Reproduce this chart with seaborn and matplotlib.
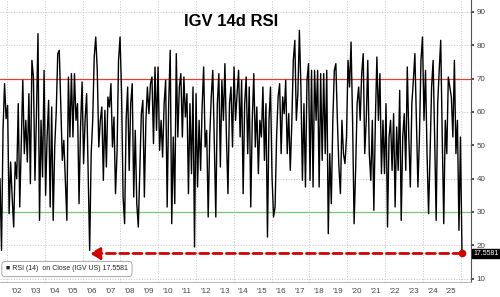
import numpy as np
import pandas as pd
import matplotlib
matplotlib.use("Agg")
import matplotlib.pyplot as plt
import seaborn as sns

# ---- data (RSI values, evenly spaced in time) ----
rsi_2001_2005 = [40, 18.5, 55, 68.5, 58, 62, 29.5, 45, 34.5, 25.5, 45, 40, 62.5, 31.5, 50,
                 69.5, 47.5, 57.5, 45, 65.5, 38.5, 75.5, 70.5, 39.5, 59.5, 83.5, 27.5, 57.5,
                 40.5, 72.5, 35, 52.5, 63.5, 31.5, 61.5, 27.5, 49.5, 60, 77.5, 78.5, 62.5,
                 45.5, 51.5, 39.5, 27.5, 70.5, 52.5, 71.5, 52.5, 71.5, 57.5]
rsi_2006_2009 = [62.5, 32.5, 55.5, 69, 44.5, 57.5, 65.5, 41.5, 18.5, 47.5, 57.5, 76.5, 82.5,
                 72.5, 49.5, 57.5, 61.5, 39.5, 60.5, 43.5, 64.5, 61.5, 68.5, 49.5, 58.5, 35.5,
                 47.5, 75.5, 82.5, 65.5, 34.5, 26.5, 57.5, 67.5, 42.5, 62.5, 68.5, 34.5, 54.5,
                 32.5, 25.5, 42.5, 59.5, 63.5, 34.5, 57.5, 67.5, 59.5, 68.5, 70.5, 50.5, 73.5,
                 54.5, 73.5, 48.5, 57.5, 46.5]
rsi_2010_2013 = [62.5, 69.5, 31.5, 62.5, 78.5, 26.5, 52.5, 32.5, 77.5, 52.5, 67.5, 71.5, 52.5,
                 70.5, 58.5, 65.5, 35.5, 62.5, 41.5, 67.5, 19.5, 65.5, 37.5, 57.5, 42.5, 61.5,
                 73.5, 49.5, 54.5, 28.5, 52.5, 64.5, 72.5, 51.5, 28.5, 62.5, 71.5, 43.5, 69.5,
                 57.5, 74.5, 52.5, 35.5, 62.5, 67.5, 49.5, 73.5, 57.5, 65.5]
rsi_2014_2017 = [72.5, 52.5, 69.5, 35.5, 62.5, 70.5, 47.5, 67.5, 31.5, 57.5, 71.5, 49.5, 61.5,
                 41.5, 57.5, 52.5, 67.5, 45.5, 62.5, 22.5, 57.5, 67.5, 40.5, 28.5, 31.5, 52.5,
                 64.5, 68.5, 47.5, 64.5, 59.5, 69.5, 47.5, 59.5, 42.5, 56.5, 75.5, 81.5, 57.5,
                 65.5, 84.5, 67.5, 39.5, 62.5, 37.5, 69.5, 74.5, 39.5, 72.5, 37.5, 72.5, 57.5]
rsi_2018_2021 = [72.5, 37.5, 71.5, 45.5, 71.5, 47.5, 72.5, 23.5, 47.5, 32.5, 57.5, 72.5, 74.5,
                 57.5, 43.5, 35.5, 57.5, 47.5, 44.5, 52.5, 75.5, 67.5, 81, 57.5, 26.5, 42.5,
                 62.5, 67.5, 57.5, 71.5, 77.5, 47.5, 57.5, 75.5, 47.5, 39.5, 57.5, 30.5, 57.5,
                 76.5, 57.5, 71.5, 41.5, 57.5, 41.5, 62.5, 25.5, 52.5, 57.5, 42.5]
rsi_2022_2026 = [59.5, 31.5, 55.5, 42.5, 66.5, 27.5, 52.5, 59.5, 42.5, 73.5, 52.5, 37.5, 62.5,
                 69.5, 77.5, 57.5, 37.5, 52.5, 75.5, 82.5, 57.5, 72.5, 47.5, 29.5, 47.5, 67.5,
                 75.5, 52.5, 27.5, 62.5, 72.5, 81.5, 52.5, 26.5, 57.5, 47.5, 70.5, 67.5, 64.5,
                 52.5, 75.5, 47.5, 57.5, 24.5, 52.5, 17.5581]

rsi = np.array(rsi_2001_2005 + rsi_2006_2009 + rsi_2010_2013 +
               rsi_2014_2017 + rsi_2018_2021 + rsi_2022_2026)
dates = pd.date_range("2001-08-18", "2026-01-26", periods=len(rsi))
df = pd.DataFrame({"date": dates, "rsi": rsi})

last_value = 17.5581
low_2006_date = pd.Timestamp("2006-05-20")
year_labels = [f"'{y % 100:02d}" for y in range(2002, 2026)]

# ---- figure ----
sns.set_style("white")
plt.rcParams["font.family"] = ["Liberation Sans", "DejaVu Sans"]

fig = plt.figure(figsize=(5.0, 2.97), dpi=100)
ax = fig.add_axes([0.0, 15 / 297, 471 / 500, 282 / 297])

# gridlines
for y in [10, 20, 40, 50, 60, 80, 90]:
    ax.axhline(y, color="#bbbbbb", linestyle=(0, (1.2, 2.0)), linewidth=0.6, zorder=0)
for y in range(2002, 2027, 2):
    ax.axvline(pd.Timestamp(f"{y}-01-01"), color="#bbbbbb", linestyle=(0, (1.2, 2.0)),
               linewidth=0.6, zorder=0)

ax.axhline(70, color="#e0402f", linewidth=0.9, zorder=1)
ax.axhline(30, color="#74c874", linewidth=0.9, zorder=1)

sns.lineplot(data=df, x="date", y="rsi", ax=ax, color="black", linewidth=1.0, zorder=2)

# red dashed arrow
ax.annotate("", xy=(low_2006_date, last_value), xytext=(df["date"].iloc[-1], last_value),
            arrowprops=dict(arrowstyle="-|>,head_length=0.6,head_width=0.35",
                            color="#d40000", linestyle=(0, (3.2, 1.6)), linewidth=2.0,
                            shrinkA=0, shrinkB=0), zorder=5)
ax.plot([df["date"].iloc[-1]], [last_value], marker="o", color="#d40000",
        markersize=4.5, zorder=6)

ax.set_xlim(pd.Timestamp("2001-08-18"), pd.Timestamp("2026-07-19"))
ax.set_ylim(9.0, 93.6)

# y axis on right
ax.yaxis.tick_right()
ax.set_yticks(range(10, 91, 10))
ax.tick_params(axis="y", direction="out", length=2.5, width=1.2, colors="#333333",
               labelsize=5.8, pad=1.5, right=True, left=False)
for lab in ax.get_yticklabels():
    lab.set_color("#444444")

# x axis: year separators + mid-year labels
ax.set_xticks([pd.Timestamp(f"{y}-07-02") for y in range(2002, 2026)])
ax.set_xticklabels(year_labels)
ax.set_xticks([pd.Timestamp(f"{y}-01-01") for y in range(2002, 2027)], minor=True)
ax.tick_params(axis="x", which="major", length=0, labelsize=5.8, pad=4, colors="#444444")
ax.tick_params(axis="x", which="minor", length=11, width=0.6, color="#aaaaaa", direction="out")

ax.grid(False)
for s in ["top", "left"]:
    ax.spines[s].set_visible(False)
ax.spines["right"].set_color("#555555")
ax.spines["right"].set_linewidth(0.8)
ax.spines["bottom"].set_color("#aaaaaa")
ax.spines["bottom"].set_linewidth(0.6)
ax.set_xlabel("")
ax.set_ylabel("")

# title
ax.text(231.5 / 471, 1 - 21 / 282, "IGV 14d RSI", transform=ax.transAxes,
        ha="center", va="center", fontsize=12, fontweight="bold", color="black")

# legend box
ax.text(6 / 471, 13 / 282, "\u25a0 RSI (14)  on Close (IGV US) 17.5581",
        transform=ax.transAxes, ha="left", va="center", fontsize=5.0, color="#222222",
        bbox=dict(boxstyle="round,pad=0.6,rounding_size=0.5", fc="white",
                  ec="#999999", lw=0.6))

# last value tag on the right axis
ax.annotate(f"{last_value:.4f}", xy=(1.0, last_value), xycoords=("axes fraction", "data"),
            xytext=(1.5, 0), textcoords="offset points", ha="left", va="center",
            fontsize=5.0, color="white",
            bbox=dict(boxstyle="square,pad=0.2", fc="black", ec="black"))

fig.savefig("out.png", dpi=100)
